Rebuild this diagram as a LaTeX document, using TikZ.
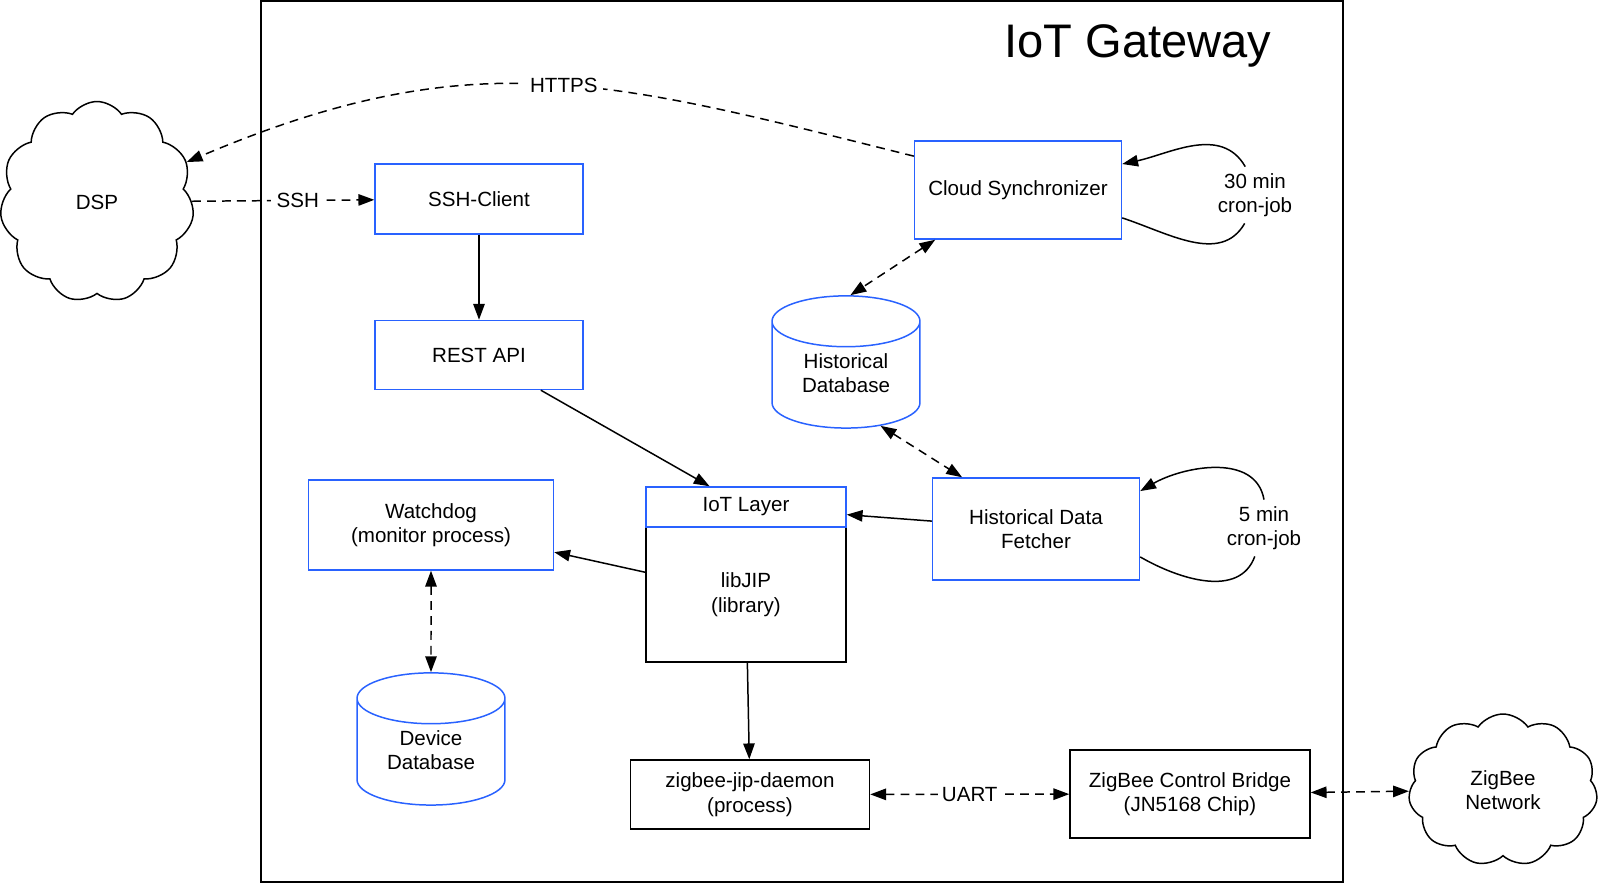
\documentclass[tikz,border=0pt]{standalone}
\usepackage{fontspec}
\setmainfont{Liberation Sans}
\usetikzlibrary{arrows.meta,shapes.geometric,shapes.symbols}
\definecolor{boxblue}{RGB}{41,98,255}

\begin{document}
\begin{tikzpicture}[x=0.02cm,y=-0.02cm,>={Triangle[length=9pt,width=6.5pt]},
  line width=0.85pt,font=\fontsize{11.7}{13.9}\selectfont,node distance=3cm,
  link/.style={dash pattern=on 5pt off 3.5pt},
  soft node/.style={rectangle,draw=boxblue,fill=white,align=center},
  hard node/.style={rectangle,draw,fill=white,align=center},
  db node/.style={cylinder,shape border rotate=90,aspect=0.51,text depth=8pt,
    draw=boxblue,fill=white,align=center},
  cloud node/.style={cloud,cloud puffs=11,cloud puff arc=110,
    cloud ignores aspect,draw,fill=white,align=center}]

  \useasboundingbox (0,0) rectangle (1600,883);

  \node[draw,minimum width=21.64cm,minimum height=17.62cm] (gw) at (802,441.5) {};
  \node[font=\fontsize{26.8}{32}\selectfont] (title) at (1138,46) {IoT Gateway};

  \node[cloud node,minimum width=3.88cm,minimum height=4.02cm] (dsp) at (97,202) {DSP};
  \node[cloud node,minimum width=3.78cm,minimum height=3.04cm] (zbnet) at (1503,790) {ZigBee\\Network};

  \node[soft node,minimum width=4.16cm,minimum height=1.4cm] (ssh) at (479,199) {SSH-Client};
  \node[soft node,minimum width=4.16cm,minimum height=1.38cm] (rest) [below of=ssh,node distance=3.12cm] {REST API};
  \node[soft node,minimum width=4.9cm,minimum height=1.8cm] (watchdog) at (431,525) {Watchdog\\(monitor process)};
  \node[db node,minimum width=2.96cm,minimum height=2.6cm] (devdb) at (431,757) {Device\\Database};

  \node[hard node,minimum width=4cm,minimum height=2.7cm] (libjip) at (746,594.5) {libJIP\\(library)};
  \node[soft node,minimum width=4cm,minimum height=0.8cm] (iot) [above of=libjip,node distance=1.75cm] {IoT Layer};
  \node[hard node,minimum width=4.78cm,minimum height=1.38cm] (daemon) at (750,794.5) {zigbee-jip-daemon\\(process)};
  \node[hard node,minimum width=4.8cm,minimum height=1.76cm] (bridge) at (1190,794) {ZigBee Control Bridge\\(JN5168 Chip)};

  \node[soft node,minimum width=4.14cm,minimum height=1.96cm] (sync) at (1018,190) {Cloud Synchronizer};
  \node[db node,minimum width=2.96cm,minimum height=2.64cm] (histdb) at (846,380) {Historical\\Database};
  \node[soft node,minimum width=4.14cm,minimum height=2.04cm] (fetcher) at (1036,529) {Historical Data\\Fetcher};

  \node[align=center] (cron30) at (1255,195) {30 min\\cron-job};
  \node[align=center] (cron5) at (1264,528) {5 min\\cron-job};

  \path[->]
    % requests
    (ssh) edge (rest)
    (rest) edge (iot)
    (fetcher) edge (iot)
    % library calls
    (libjip) edge (watchdog)
    (libjip) edge (daemon);

  \path[<->,link,every node/.style={fill=white,inner sep=2pt}]
    % storage
    (watchdog) edge (devdb)
    (sync.211) edge (histdb.87)
    (histdb.-53) edge (fetcher.145)
    % serial link and radio
    (daemon) edge node {UART} (bridge)
    (bridge) edge (zbnet);

  \draw[->,link] (dsp) -- node[fill=white,pos=0.58] {SSH} (ssh);
  \draw[->,link] (sync.162) to[out=166,in=23,looseness=1.1] node[fill=white,pos=0.47] {HTTPS} (dsp.24);

  % cron loops
  \draw (sync.-15) to[out=-18,in=-120] (cron30.-110);
  \draw[->] (cron30.109) to[out=120,in=12] (sync.14);
  \draw (fetcher.-15) to[out=-30,in=-110] (cron5.-108);
  \draw[->] (cron5.90) to[out=100,in=30] (fetcher.20);

\end{tikzpicture}
\end{document}
